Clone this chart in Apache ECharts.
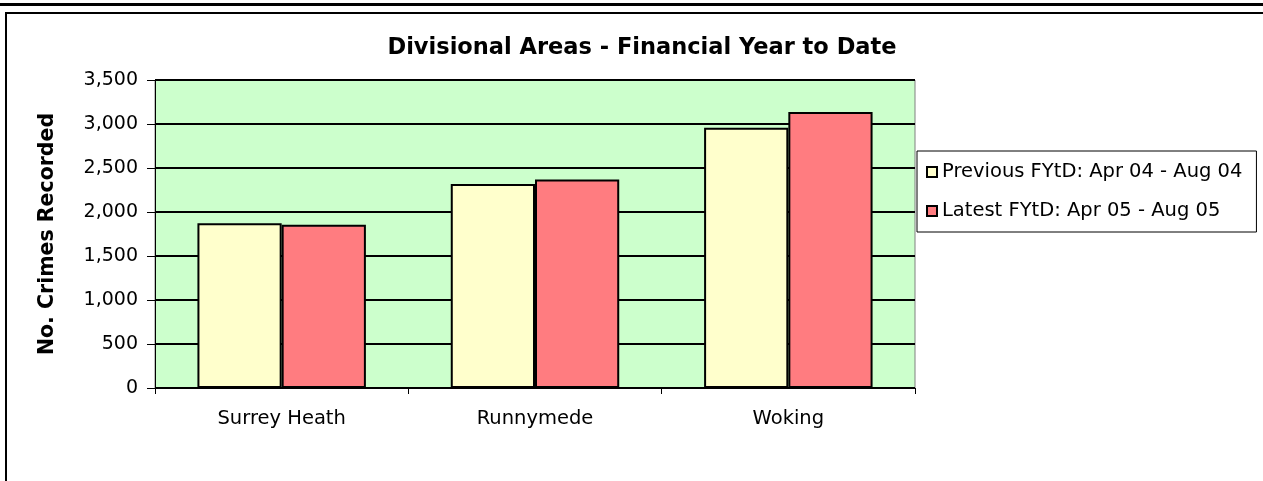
<!DOCTYPE html>
<html>
<head>
<meta charset="utf-8">
<title>Divisional Areas - Financial Year to Date</title>
<script src="https://cdn.jsdelivr.net/npm/echarts@6/dist/echarts.min.js"></script>
<style>
  html, body { margin: 0; padding: 0; background: #fff; }
  #chart { width: 1263px; height: 481px; }
</style>
</head>
<body>
<div id="chart"></div>
<script>
// data
var areas = ['Surrey Heath', 'Runnymede', 'Woking'];
var previousFytd = [1873, 2318, 2958];
var latestFytd = [1855, 2368, 3136];
var seriesNames = ['Previous FYtD: Apr 04 - Aug 04', 'Latest FYtD: Apr 05 - Aug 05'];

var FONT = 'DejaVu Sans';

var myChart = echarts.init(document.getElementById('chart'), null, { renderer: 'canvas' });

var option = {
    backgroundColor: '#ffffff',
    animation: false,
    title: {
        text: 'Divisional Areas - Financial Year to Date',
        left: 637,
        textAlign: 'center',
        top: 32,
        textStyle: { fontFamily: FONT, fontSize: 22.5, fontWeight: 'bold', color: '#000' }
    },
    legend: {
        orient: 'vertical',
        left: 917,
        top: 151,
        padding: [11, 14, 11, 9],
        itemGap: 19,
        itemWidth: 10,
        itemHeight: 10,
        itemTextGap: 10,
        icon: 'rect',
        borderColor: '#000',
        borderWidth: 1,
        backgroundColor: '#fff',
        textStyle: { fontFamily: FONT, fontSize: 19.5, color: '#000' },
        data: seriesNames
    },
    grid: {
        left: 155,
        right: 348,
        top: 80,
        bottom: 93,
        show: true,
        backgroundColor: '#CCFFCC',
        borderColor: '#808080',
        borderWidth: 1
    },
    xAxis: {
        type: 'category',
        data: areas,
        axisLine: { lineStyle: { color: '#000', width: 1 } },
        axisTick: { show: true, length: 6, lineStyle: { color: '#000' } },
        axisLabel: { fontFamily: FONT, fontSize: 19.5, color: '#000', margin: 21 }
    },
    yAxis: {
        type: 'value',
        min: 0,
        max: 3500,
        interval: 500,
        name: 'No. Crimes Recorded',
        nameLocation: 'middle',
        nameGap: 97,
        nameTextStyle: { fontFamily: FONT, fontSize: 20.5, fontWeight: 'bold', color: '#000' },
        axisLine: { show: true, lineStyle: { color: '#000' } },
        axisTick: { show: true, length: 8, lineStyle: { color: '#000' } },
        axisLabel: {
            fontFamily: FONT, fontSize: 19, color: '#000', margin: 17,
            formatter: function (v) { return v.toLocaleString('en-US'); }
        },
        splitLine: { show: true, lineStyle: { color: '#000', width: 2 } }
    },
    series: [{
        name: seriesNames[0],
        type: 'bar',
        data: previousFytd,
        barGap: '0%',
        barCategoryGap: '33.5%',
        itemStyle: { color: '#FFFFCC', borderColor: '#000', borderWidth: 2 }
    }, {
        name: seriesNames[1],
        type: 'bar',
        data: latestFytd,
        itemStyle: { color: '#FF7C80', borderColor: '#000', borderWidth: 2 }
    }],
    graphic: [
        // outer frame lines of the report page
        { type: 'rect', shape: { x: 0, y: 3, width: 1263, height: 3 }, style: { fill: '#000' } },
        { type: 'rect', shape: { x: 5, y: 12, width: 1258, height: 2 }, style: { fill: '#000' } },
        { type: 'rect', shape: { x: 5, y: 12, width: 2, height: 469 }, style: { fill: '#000' } }
    ]
};

myChart.setOption(option);
</script>
</body>
</html>
